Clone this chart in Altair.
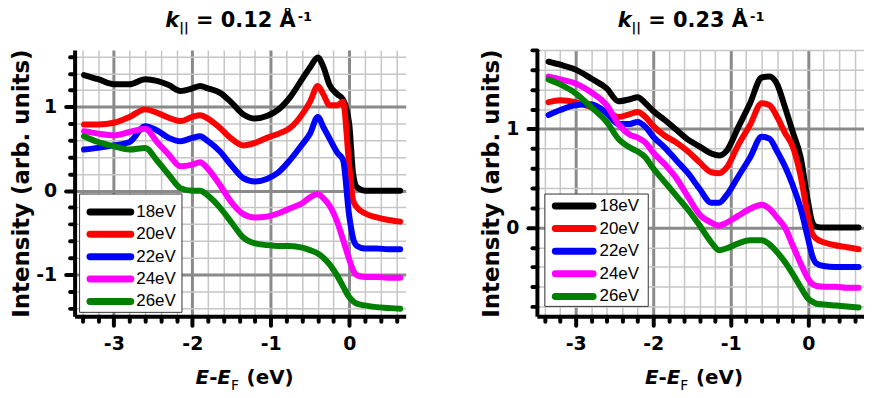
import altair as alt
import pandas as pd

FONT = "Liberation Sans"
BFONT = "DejaVu Sans"

SERIES = ["18eV", "20eV", "22eV", "24eV", "26eV"]
COLORS = ["#000000", "#ff0000", "#0000ff", "#ff00ff", "#008000"]

# ---- panel 1 : k = 0.12 1/A ----
E1 = [-3.38, -3.2, -3.0, -2.8, -2.6, -2.45, -2.3, -2.15, -2.0, -1.9, -1.8, -1.65, -1.5, -1.35, -1.2,
      -1.05, -0.9, -0.75, -0.6, -0.5, -0.4, -0.33, -0.25, -0.15, -0.08, 0.0, 0.05, 0.1, 0.2, 0.35, 0.5, 0.65]
P1_18 = [1.38, 1.33, 1.27, 1.27, 1.33, 1.31, 1.26, 1.19, 1.22, 1.25, 1.22, 1.17, 1.05, 0.91, 0.86,
         0.89, 0.97, 1.12, 1.33, 1.47, 1.59, 1.48, 1.26, 1.15, 1.09, 0.80, 0.20, 0.04, 0.0, 0.0, 0.0, 0.0]
P1_20 = [0.79, 0.79, 0.81, 0.88, 0.97, 0.93, 0.87, 0.83, 0.88, 0.90, 0.86, 0.75, 0.62, 0.54, 0.57,
         0.63, 0.68, 0.75, 0.91, 1.06, 1.25, 1.15, 1.02, 1.02, 1.06, 0.30, -0.12, -0.20, -0.27, -0.32, -0.35, -0.37]
P1_22 = [0.49, 0.51, 0.54, 0.58, 0.77, 0.72, 0.63, 0.59, 0.63, 0.65, 0.59, 0.47, 0.30, 0.15, 0.11,
         0.14, 0.22, 0.37, 0.55, 0.68, 0.88, 0.76, 0.62, 0.45, 0.37, -0.30, -0.57, -0.66, -0.69, -0.69, -0.70, -0.70]
P1_24 = [0.71, 0.68, 0.66, 0.70, 0.74, 0.58, 0.43, 0.29, 0.31, 0.34, 0.26, 0.07, -0.14, -0.28, -0.32,
         -0.31, -0.27, -0.21, -0.15, -0.08, -0.04, -0.09, -0.18, -0.38, -0.58, -0.82, -0.95, -1.01, -1.03, -1.03, -1.04, -1.04]
P1_26 = [0.65, 0.58, 0.53, 0.49, 0.51, 0.36, 0.19, 0.03, 0.0, 0.0, -0.06, -0.20, -0.38, -0.56, -0.63,
         -0.65, -0.66, -0.66, -0.68, -0.71, -0.75, -0.80, -0.88, -1.02, -1.14, -1.27, -1.32, -1.35, -1.37, -1.39, -1.40, -1.41]

# ---- panel 2 : k = 0.23 1/A ----
E2 = [-3.35, -3.2, -3.0, -2.8, -2.6, -2.45, -2.3, -2.2, -2.1, -2.0, -1.85, -1.7, -1.55, -1.4, -1.25,
      -1.15, -1.05, -0.9, -0.75, -0.6, -0.5, -0.4, -0.3, -0.2, -0.1, 0.0, 0.05, 0.1, 0.2, 0.35, 0.5, 0.65]
P2_18 = [1.68, 1.65, 1.60, 1.51, 1.41, 1.28, 1.30, 1.32, 1.26, 1.18, 1.09, 0.99, 0.89, 0.82, 0.75,
         0.73, 0.78, 1.02, 1.26, 1.52, 1.53, 1.45, 1.22, 0.97, 0.72, 0.25, 0.06, 0.01, 0.0, 0.0, 0.0, 0.0]
P2_20 = [1.27, 1.29, 1.27, 1.22, 1.17, 1.12, 1.15, 1.17, 1.12, 1.03, 0.93, 0.86, 0.77, 0.66, 0.56,
         0.55, 0.61, 0.84, 1.04, 1.26, 1.24, 1.12, 0.96, 0.82, 0.53, 0.10, -0.06, -0.11, -0.15, -0.18, -0.20, -0.22]
P2_22 = [1.14, 1.19, 1.24, 1.25, 1.16, 1.05, 1.05, 1.07, 1.02, 0.92, 0.81, 0.68, 0.55, 0.39, 0.25,
         0.25, 0.33, 0.52, 0.71, 0.92, 0.90, 0.77, 0.62, 0.43, 0.20, -0.12, -0.28, -0.36, -0.39, -0.40, -0.40, -0.40]
P2_24 = [1.53, 1.50, 1.46, 1.37, 1.24, 1.05, 0.94, 0.91, 0.86, 0.76, 0.64, 0.50, 0.31, 0.13, 0.05,
         0.02, 0.05, 0.12, 0.19, 0.23, 0.19, 0.10, 0.0, -0.18, -0.36, -0.52, -0.57, -0.59, -0.60, -0.60, -0.61, -0.61]
P2_26 = [1.50, 1.45, 1.36, 1.22, 1.07, 0.90, 0.81, 0.77, 0.71, 0.60, 0.46, 0.32, 0.18, 0.02, -0.15,
         -0.23, -0.21, -0.16, -0.13, -0.13, -0.17, -0.25, -0.35, -0.47, -0.60, -0.72, -0.75, -0.77, -0.78, -0.79, -0.80, -0.81]

X_DOMAIN = [-3.5, 0.72]
X_MAJOR = [-3, -2, -1, 0]
X_MINOR = [-3.4, -3.2, -2.8, -2.6, -2.4, -2.2, -1.8, -1.6, -1.4, -1.2, -0.8, -0.6, -0.4, -0.2, 0.2, 0.4, 0.6]

Y1_DOMAIN = [-1.5, 1.68]
Y1_MAJOR = [-1, 0, 1]
Y1_MINOR = [-1.4, -1.2, -0.8, -0.6, -0.4, -0.2, 0.2, 0.4, 0.6, 0.8, 1.2, 1.4, 1.6]

Y2_DOMAIN = [-0.9, 1.8]
Y2_MAJOR = [0, 1]
Y2_MINOR = [-0.8, -0.6, -0.4, -0.2, 0.2, 0.4, 0.6, 0.8, 1.2, 1.4, 1.6, 1.8]

TITLE1 = ["k", "||", " = 0.12 Å", "-1"]
TITLE2 = ["k", "||", " = 0.23 Å", "-1"]
XTITLE = ["E", "-", "E", "F", " (eV)"]
YTITLE = "Intensity (arb. units)"

# DejaVu Sans Bold advance widths (em)
W_BOLD = {'E': 0.683, '-': 0.411, 'F': 0.631, ' ': 0.348, '(': 0.457, ')': 0.457, 'e': 0.678,
          'V': 0.774, 'k': 0.666, '|': 0.367, '=': 0.838, '.': 0.381, 'Å': 0.774}


def tw(s, size):
    return sum(W_BOLD.get(c, 0.696) for c in s) * size


def rich(pieces, cx, base):
    # pieces: (text, size, weight, style, dy, dx)
    total = sum(tw(p[0], p[1]) + p[5] for p in pieces)
    x = cx - total / 2
    layers = []
    for text, size, weight, style, dy, dx in pieces:
        x += dx
        lead = len(text) - len(text.lstrip(" "))
        xs = x + tw(" " * lead, size)
        layers.append(
            alt.Chart(pd.DataFrame({"t": [text.strip()]})).mark_text(
                align="left", baseline="alphabetic", font=BFONT, fontSize=size,
                fontWeight=weight, fontStyle=style, color="black"
            ).encode(x=alt.value(xs), y=alt.value(base + dy), text="t:N")
        )
        x += tw(text, size)
    return layers


def long_df(E, cols):
    rows = []
    for name, vals in zip(SERIES, cols):
        for e, v in zip(E, vals):
            rows.append({"E": e, "I": v, "series": name})
    return pd.DataFrame(rows)


LABEL_EXPR = "datum.value < 0 ? '-' + (-datum.value) : '' + datum.value"
CSCALE = alt.Scale(domain=SERIES, range=COLORS)


def legend_layers(frame, sym, tx, rows):
    one = pd.DataFrame({"a": [0]})
    leg = pd.DataFrame({"series": SERIES})
    box = alt.Chart(one).mark_rect(fill="white", stroke="#333333", strokeWidth=1).encode(
        x=alt.value(frame[0]), x2=alt.value(frame[1]), y=alt.value(frame[2]), y2=alt.value(frame[3]))
    yenc = alt.Y("series:N", scale=alt.Scale(type="point", domain=SERIES, range=rows, padding=0), axis=None)
    lines = alt.Chart(leg).mark_rule(strokeWidth=7, strokeCap="round").encode(
        x=alt.value(sym[0]), x2=alt.value(sym[1]), y=yenc,
        color=alt.Color("series:N", scale=CSCALE, legend=None))
    labels = alt.Chart(leg).mark_text(align="left", baseline="middle", font=FONT, fontSize=17,
                                      color="black").encode(x=alt.value(tx), y=yenc, text="series:N")
    return [box, lines, labels]


def panel(E, cols, ydom, ymaj, ymin, title, w, h, t_cx, t_base, x_cx, x_base, leg):
    df = long_df(E, cols)
    xs = alt.Scale(domain=X_DOMAIN, nice=False, zero=False)
    ys = alt.Scale(domain=ydom, nice=False, zero=False)
    minor_ax = dict(labels=False, title=None, domain=False, grid=True, gridColor="#c6c6c6",
                    gridWidth=1.5, tickSize=5, tickWidth=4, tickColor="black", tickCap="round")
    major_ax = dict(labelExpr=LABEL_EXPR, labelFont=BFONT, labelFontSize=19, labelFontWeight="bold",
                    labelColor="black", labelPadding=9, grid=True, gridColor="#8a8a8a", gridWidth=3,
                    tickSize=9, tickWidth=4, tickColor="black", tickCap="round", domain=True,
                    domainColor="black", domainWidth=4)
    minor = alt.Chart(df).mark_line(opacity=0).encode(
        x=alt.X("E:Q", scale=xs, axis=alt.Axis(values=X_MINOR, orient="bottom", **minor_ax)),
        y=alt.Y("I:Q", scale=ys, axis=alt.Axis(values=ymin, orient="left", **minor_ax)),
        detail="series:N",
    )
    major = alt.Chart(df).mark_line(strokeWidth=6, strokeCap="round", strokeJoin="round",
                                    interpolate="monotone").encode(
        x=alt.X("E:Q", scale=xs, axis=alt.Axis(values=X_MAJOR, orient="bottom", title=None, **major_ax)),
        y=alt.Y("I:Q", scale=ys, axis=alt.Axis(values=ymaj, orient="left", title=YTITLE, titleFont=BFONT,
                                                titleFontSize=23, titleFontWeight="bold", titleColor="black",
                                                titlePadding=2, **major_ax)),
        color=alt.Color("series:N", scale=CSCALE, legend=None),
    )
    tpieces = [(title[0], 21, "bold", "italic", 0, 0), (title[1], 13, "bold", "normal", 4, 0),
               (title[2], 21, "bold", "normal", 0, 0), (title[3], 13, "bold", "normal", -6, 2)]
    xpieces = [(XTITLE[0], 20, "bold", "italic", 0, 0), (XTITLE[1], 20, "bold", "normal", 0, 0),
               (XTITLE[2], 20, "bold", "italic", 0, 0), (XTITLE[3], 14, "normal", "normal", 6, 0),
               (XTITLE[4], 20, "bold", "normal", 0, 0)]
    texts = rich(tpieces, t_cx, t_base) + rich(xpieces, x_cx, x_base)
    return alt.layer(minor, major, *legend_layers(*leg), *texts).resolve_scale(
        y="independent").resolve_axis(x="independent", y="independent").properties(width=w, height=h)


left = panel(E1, [P1_18, P1_20, P1_22, P1_24, P1_26], Y1_DOMAIN, Y1_MAJOR, Y1_MINOR, TITLE1,
             333, 268, 165, -23, 171, 336,
             ([5, 108, 145, 264], [15.5, 56.5], 62, [163, 253]))
right = panel(E2, [P2_18, P2_20, P2_22, P2_24, P2_26], Y2_DOMAIN, Y2_MAJOR, Y2_MINOR, TITLE2,
              329, 268, 155, -23, 158, 336,
              ([8, 112, 145, 258], [18.5, 56.5], 63, [157, 248]))

chart = alt.hconcat(left, right, spacing=75).properties(
    padding={"left": 2, "top": 1, "right": 0, "bottom": 0}, background="white"
).configure_view(stroke=None)

chart.save("out.html", embed_options={"renderer": "svg", "actions": False})
